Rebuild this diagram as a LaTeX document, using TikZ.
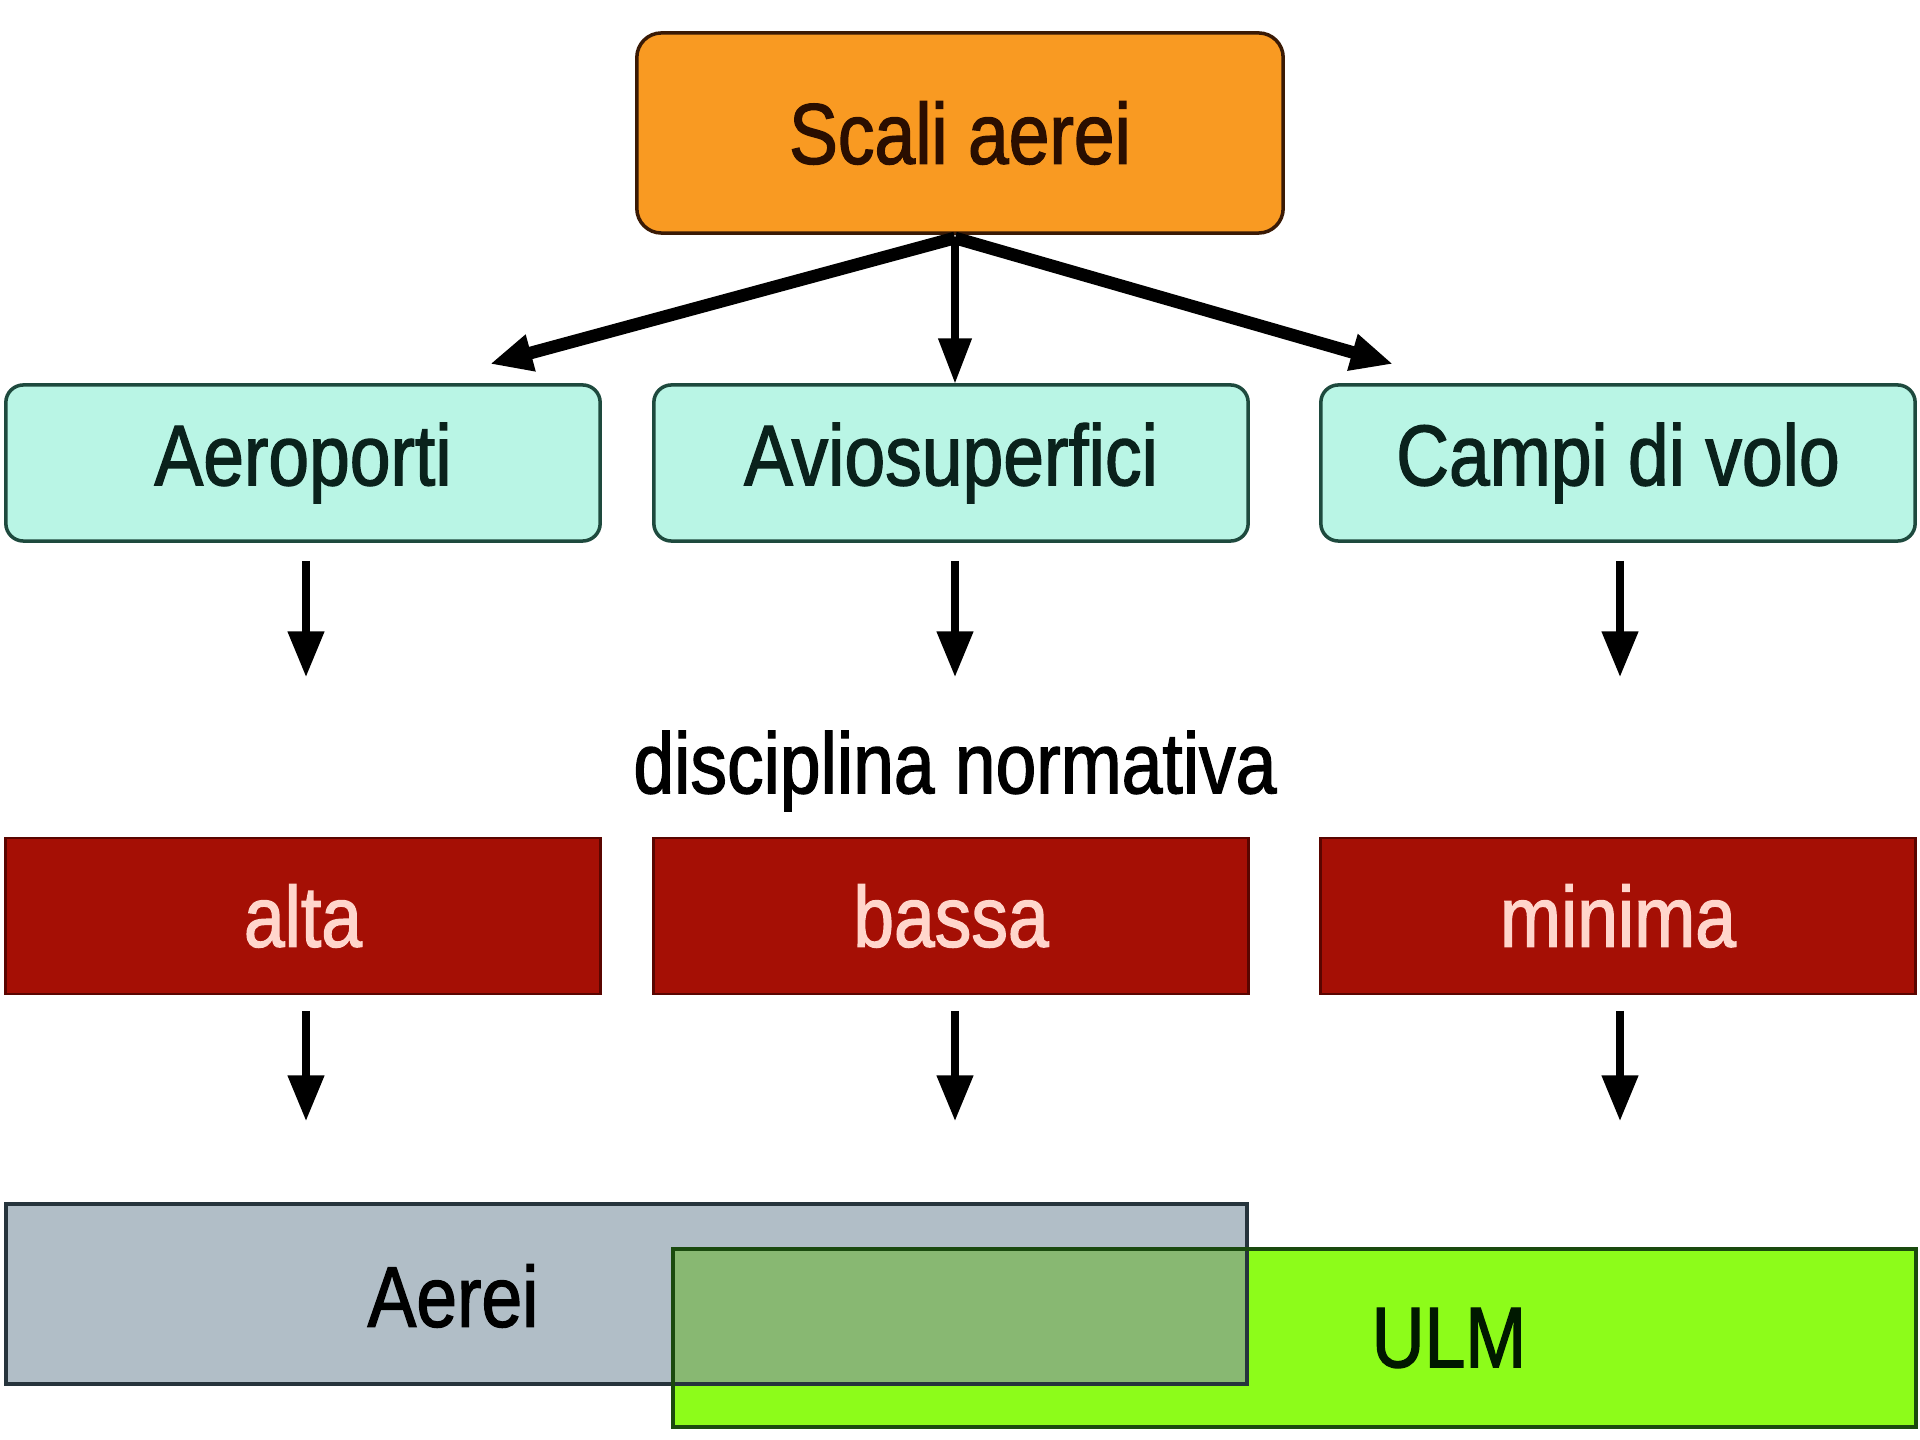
\documentclass[tikz,border=0pt]{standalone}
\usepackage{fontspec}
\setmainfont{Liberation Sans}[FakeStretch=0.85,FakeBold=1.5]
\usetikzlibrary{arrows.meta}
\definecolor{orangefill}{HTML}{F99A22}
\definecolor{orangeline}{HTML}{3A1A05}
\definecolor{orangetext}{HTML}{2A0E00}
\definecolor{cyanfill}{HTML}{B9F5E5}
\definecolor{cyanline}{HTML}{1E4A3E}
\definecolor{cyantext}{HTML}{0A221C}
\definecolor{redfill}{HTML}{A50F05}
\definecolor{redline}{HTML}{5A0500}
\definecolor{redtext}{HTML}{FFD6CC}
\definecolor{grayfill}{HTML}{B1BEC7}
\definecolor{grayline}{HTML}{26343C}
\definecolor{greenfill}{HTML}{8DFC1A}
\definecolor{greenline}{HTML}{1A4A0E}
\definecolor{overlapfill}{HTML}{88B872}
\tikzset{
  topbox/.style={draw=orangeline, fill=orangefill, text=orangetext, line width=1pt,
    rounded corners=7pt, minimum width=6.46cm, minimum height=2.0cm, inner sep=0pt},
  typebox/.style={draw=cyanline, fill=cyanfill, text=cyantext, line width=1pt,
    rounded corners=5pt, minimum width=5.94cm, minimum height=1.56cm, inner sep=0pt},
  levelbox/.style={draw=redline, fill=redfill, text=redtext, line width=0.8pt,
    minimum width=5.94cm, minimum height=1.56cm, inner sep=0pt},
  arr/.style={line width=2.1pt, -{Triangle[width=10pt,length=13pt]}},
  diagarr/.style={line width=3.6pt, -{Triangle[width=10pt,length=12pt]}},
  midarr/.style={line width=2.4pt, -{Triangle[width=9pt,length=13pt]}},
  lbl/.style={inner sep=0pt}
}
\begin{document}
\begin{tikzpicture}[x=0.01cm, y=-0.01cm, font=\fontsize{24.5}{29}\selectfont]
\useasboundingbox (0,0) rectangle (1920,1440);
\fill[white] (0,0) rectangle (1920,1440);

% top node
\node[topbox] (top) at (960,133) {Scali aerei};

% type boxes
\node[typebox] (aero)  at (303,463)  {Aeroporti};
\node[typebox] (avio)  at (951,463)  {Aviosuperfici};
\node[typebox] (campi) at (1618,463) {Campi di volo};

% level boxes
\node[levelbox] (alta)   at (303,916)  {alta};
\node[levelbox] (bassa)  at (951,916)  {bassa};
\node[levelbox] (minima) at (1618,916) {minima};

\node[lbl] (disc) at (955,771) {disciplina normativa};

% bottom overlapping bars
\fill[grayfill] (6,1204) rectangle (1247,1384);
\fill[greenfill] (673,1249) rectangle (1916,1427);
\fill[overlapfill] (673,1249) rectangle (1247,1384);
\draw[grayline, line width=1pt] (6,1204) rectangle (1247,1384);
\draw[greenline, line width=1pt] (673,1249) rectangle (1916,1427);
\node[lbl, text=black] (aerei) at (453,1296) {Aerei};
\node[lbl, text=black!90!green] (ulm) at (1449,1338) {ULM};

% connectors from top
\coordinate (hub) at (955,238);
\coordinate (tl) at (490,364);
\coordinate (tm) at (955,384);
\coordinate (tr) at (1393,364);
\draw[diagarr] (hub) -- (tl);
\draw[midarr] (hub) -- (tm);
\draw[diagarr] (hub) -- (tr);

% down arrows, first row
\coordinate (a1s) at (306,561);  \coordinate (a1e) at (306,677);
\coordinate (b1s) at (955,561);  \coordinate (b1e) at (955,677);
\coordinate (c1s) at (1620,561); \coordinate (c1e) at (1620,677);
\draw[arr] (a1s) -- (a1e);
\draw[arr] (b1s) -- (b1e);
\draw[arr] (c1s) -- (c1e);

% down arrows, second row
\coordinate (a2s) at (306,1011);  \coordinate (a2e) at (306,1121);
\coordinate (b2s) at (955,1011);  \coordinate (b2e) at (955,1121);
\coordinate (c2s) at (1620,1011); \coordinate (c2e) at (1620,1121);
\draw[arr] (a2s) -- (a2e);
\draw[arr] (b2s) -- (b2e);
\draw[arr] (c2s) -- (c2e);
\end{tikzpicture}
\end{document}
